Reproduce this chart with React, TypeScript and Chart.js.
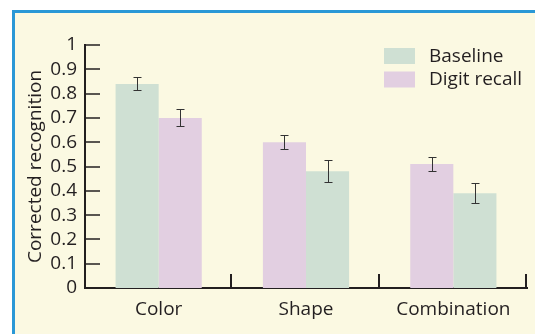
import React, { useEffect, useRef } from "react";
import { Chart, registerables } from "chart.js";

Chart.register(...registerables);

const categories = ["Color", "Shape", "Combination"];
const baseline = [0.84, 0.48, 0.39];
const baselineError = [0.027, 0.045, 0.042];
const digitRecall = [0.7, 0.6, 0.51];
const digitRecallError = [0.035, 0.03, 0.028];
// Within each group, does the Baseline bar sit on the left?
const baselineFirst = [true, false, false];
const yTickLabels = ["0", "0.1", "0.2", "0.3", "0.4", "0.5", "0.6", "0.7", "0.8", "0.9", "1"];

const seriesNames = ["Baseline", "Digit recall"];
const GREEN = "#cfe0d3";
const PURPLE = "#e2cfe1";
const INK = "#231f20";
const FONT = "'Open Sans', 'Noto Sans', sans-serif";
const FONT_SIZE = 19;

// Error bars: vertical whisker with short caps at value ± error.
const errorBarPlugin = {
  id: "errorBars",
  afterDatasetsDraw(chart: any) {
    const { ctx } = chart;
    const y = chart.scales.y;
    ctx.save();
    ctx.strokeStyle = "#333";
    ctx.lineWidth = 1;
    chart.data.datasets.forEach((ds: any, di: number) => {
      const meta = chart.getDatasetMeta(di);
      meta.data.forEach((bar: any, i: number) => {
        const v = ds.data[i];
        const e = ds.errors[i];
        const x = Math.round(bar.x) + 0.5;
        const top = Math.round(y.getPixelForValue(v + e)) + 0.5;
        const bot = Math.round(y.getPixelForValue(v - e)) + 0.5;
        ctx.beginPath();
        ctx.moveTo(x, top);
        ctx.lineTo(x, bot);
        ctx.moveTo(x - 4, top);
        ctx.lineTo(x + 4, top);
        ctx.moveTo(x - 4, bot);
        ctx.lineTo(x + 4, bot);
        ctx.stroke();
      });
    });
    ctx.restore();
  },
};

// Inward tick marks on the y axis and group separators on the x axis.
const innerTicksPlugin = {
  id: "innerTicks",
  afterDraw(chart: any) {
    const { ctx, chartArea } = chart;
    const y = chart.scales.y;
    ctx.save();
    ctx.strokeStyle = INK;
    ctx.lineWidth = 1.5;
    y.ticks.forEach((t: any) => {
      if (t.value === 0) return;
      const py = Math.round(y.getPixelForValue(t.value));
      ctx.beginPath();
      ctx.moveTo(chartArea.left, py);
      ctx.lineTo(chartArea.left + 15, py);
      ctx.stroke();
    });
    const n = categories.length;
    const w = (chartArea.right - chartArea.left) / n;
    ctx.lineWidth = 2;
    for (let i = 1; i <= n; i++) {
      const px = Math.round(chartArea.left + w * i) - 1;
      ctx.beginPath();
      ctx.moveTo(px, chartArea.bottom);
      ctx.lineTo(px, chartArea.bottom - 14);
      ctx.stroke();
    }
    ctx.restore();
  },
};

// Legend drawn inside the plot, top right.
const insideLegendPlugin = {
  id: "insideLegend",
  afterDraw(chart: any) {
    const { ctx, chartArea } = chart;
    const colors = [GREEN, PURPLE];
    const x0 = chartArea.right - 143;
    const y0 = chartArea.top + 3;
    ctx.save();
    ctx.font = `${FONT_SIZE}px ${FONT}`;
    ctx.textBaseline = "alphabetic";
    ctx.textAlign = "left";
    seriesNames.forEach((name, i) => {
      const yy = y0 + i * 23.5;
      ctx.fillStyle = colors[i];
      ctx.fillRect(x0, yy, 31, 16);
      ctx.fillStyle = INK;
      ctx.fillText(name, x0 + 45, yy + 13.5);
    });
    ctx.restore();
  },
};

export default function App() {
  const canvasRef = useRef<HTMLCanvasElement | null>(null);

  useEffect(() => {
    const canvas = canvasRef.current;
    if (!canvas) return;

    const pick = (first: boolean) =>
      categories.map((_, i) => (baselineFirst[i] === first ? baseline[i] : digitRecall[i]));
    const pickErr = (first: boolean) =>
      categories.map((_, i) => (baselineFirst[i] === first ? baselineError[i] : digitRecallError[i]));
    const pickColor = (first: boolean) =>
      categories.map((_, i) => (baselineFirst[i] === first ? GREEN : PURPLE));

    const chart = new Chart(canvas, {
      type: "bar",
      data: {
        labels: categories,
        datasets: [
          {
            label: "left",
            data: pick(true),
            errors: pickErr(true),
            backgroundColor: pickColor(true),
            borderWidth: 0,
            categoryPercentage: 0.585,
            barPercentage: 1,
          } as any,
          {
            label: "right",
            data: pick(false),
            errors: pickErr(false),
            backgroundColor: pickColor(false),
            borderWidth: 0,
            categoryPercentage: 0.585,
            barPercentage: 1,
          } as any,
        ],
      },
      options: {
        responsive: false,
        animation: false,
        layout: { padding: { left: 0, right: 8, top: 45, bottom: 0 } },
        plugins: {
          legend: { display: false },
          tooltip: { enabled: false },
        },
        scales: {
          x: {
            grid: { display: false, drawTicks: false },
            border: { display: true, color: INK, width: 2 },
            ticks: { color: INK, font: { family: FONT, size: FONT_SIZE }, padding: 10 },
            afterFit: (s: any) => {
              s.height = 46;
            },
          },
          y: {
            min: 0,
            max: 1,
            grid: { display: false, drawTicks: false },
            border: { display: true, color: INK, width: 2 },
            ticks: {
              stepSize: 0.1,
              autoSkip: false,
              color: INK,
              font: { family: FONT, size: FONT_SIZE },
              padding: 8,
              callback: (_v: any, i: number) => yTickLabels[i],
            },
            title: {
              display: true,
              text: "Corrected recognition",
              color: INK,
              font: { family: FONT, size: FONT_SIZE },
              padding: { top: 24, bottom: 0 },
            },
            afterFit: (s: any) => {
              s.width = 85;
            },
          },
        },
      },
      plugins: [errorBarPlugin, innerTicksPlugin, insideLegendPlugin],
    });

    return () => chart.destroy();
  }, []);

  return (
    <div
      style={{
        position: "fixed",
        left: 0,
        top: 0,
        width: 535,
        height: 334,
        background: "#ffffff",
        overflow: "hidden",
      }}
    >
      <div
        style={{
          position: "absolute",
          left: 12,
          top: 10,
          right: 0,
          bottom: 0,
          borderLeft: "3px solid #2a98d6",
          borderTop: "3px solid #2a98d6",
          background: "#fbf9e2",
        }}
      />
      <canvas
        ref={canvasRef}
        width={535}
        height={334}
        style={{ position: "absolute", left: 0, top: 0, width: 535, height: 334 }}
      />
    </div>
  );
}
